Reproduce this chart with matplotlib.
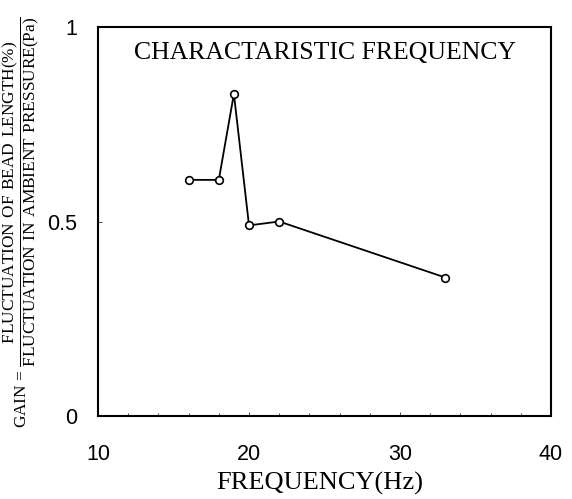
import matplotlib
matplotlib.use("Agg")
import matplotlib.pyplot as plt
from matplotlib.ticker import MultipleLocator

# Datos
frecuencia = [16, 18, 19, 20, 22, 33]
ganancia = [0.607, 0.607, 0.828, 0.49, 0.5, 0.356]
x_ticks = [10, 20, 30, 40]
y_ticks = [0, 0.5, 1]
y_tick_labels = ["0", "0.5", "1"]

plt.rcParams['mathtext.fontset'] = 'custom'
plt.rcParams['mathtext.rm'] = 'Liberation Serif'
serif = 'Liberation Serif'
sans = 'Liberation Sans'

fig = plt.figure(figsize=(5.72, 4.99), dpi=100)
ax = fig.add_axes([98 / 572, 1 - 416 / 499, 453 / 572, 389 / 499])

ax.plot(frecuencia, ganancia, color='black', linewidth=1.3, marker='o',
        markersize=5.5, markerfacecolor='white', markeredgecolor='black',
        markeredgewidth=1.2)

ax.set_xlim(10, 40)
ax.set_ylim(0, 1)
for s in ax.spines.values():
    s.set_linewidth(1.5)

ax.set_xticks(x_ticks)
ax.set_yticks(y_ticks)
ax.xaxis.set_minor_locator(MultipleLocator(2))
ax.set_xticklabels([str(t) for t in x_ticks], fontfamily=sans, fontsize=15.5)
ax.set_yticklabels(y_tick_labels, fontfamily=sans, fontsize=15.5)
ax.tick_params(axis='x', which='major', direction='in', length=3, width=0.5, pad=20)
ax.tick_params(axis='x', which='minor', direction='in', length=2, width=0.5)
ax.tick_params(axis='y', direction='in', length=3, width=0.5, pad=15)

# Titulo dentro del grafico
ax.text(0.5, 0.933, "CHARACTARISTIC FREQUENCY", transform=ax.transAxes,
        fontfamily=serif, fontsize=18.5, ha='center', va='center')

fig.text(320 / 572, 1 - 483 / 499, "FREQUENCY(Hz)", fontfamily=serif,
         fontsize=19, ha='center', va='center')

etiqueta_y = (r"GAIN = $\dfrac{\mathrm{FLUCTUATION\ OF\ BEAD\ LENGTH(\%)}}"
              r"{\mathrm{FLUCTUATION\ IN\ AMBIENT\ PRESSURE(Pa)}}$")
fig.text(21 / 572, 1 - 222 / 499, etiqueta_y, rotation=90, fontfamily=serif,
         fontsize=12.4, ha='center', va='center')

plt.savefig("out.png", dpi=100)
